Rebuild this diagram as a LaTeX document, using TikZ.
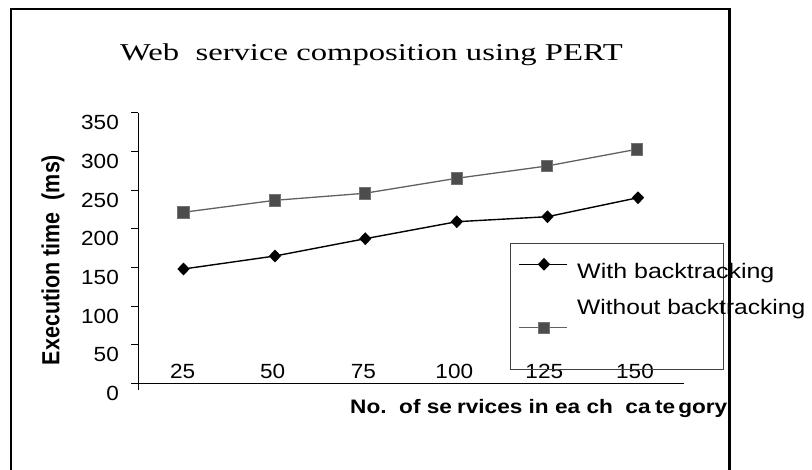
\documentclass[tikz,border=0pt]{standalone}
\usepackage{fontspec}
\setmainfont{Liberation Sans}
\newfontfamily\ttlfont{Liberation Serif}
\usetikzlibrary{shapes.geometric}
% horizontal stretch of a piece of text
\newcommand{\xstretch}[2]{\scalebox{#1}[1]{#2}}
% a gap of #1 word spaces
\newcommand{\wgap}[1]{\hspace{#1\fontdimen2\font}}

\begin{document}
\begin{tikzpicture}[x=1pt,y=-1pt,
  frameline/.style={line width=2.2pt, draw=black},
  axisline/.style={line width=0.9pt, draw=black},
  ticklbl/.style={font=\fontsize{20.5}{22}\selectfont, inner sep=0pt},
  legtxt/.style={font=\fontsize{21}{24}\selectfont, inner sep=0pt, anchor=base west},
  serA/.style={line width=1.4pt, draw=black},
  serB/.style={line width=1.3pt, draw=black!62},
  dmark/.style={diamond, fill=black, inner sep=0pt, minimum width=12.5pt, minimum height=13pt},
  smark/.style={rectangle, fill=black!70, draw=black!55, line width=0.6pt, inner sep=0pt, minimum size=11.5pt},
  legbox/.style={draw=black!75, line width=1pt}
]
\useasboundingbox (0,0) rectangle (812,470);

% title
\node[anchor=base west, inner sep=0pt] (title) at (120,61)
  {\ttlfont\fontsize{24.2}{26}\selectfont\xstretch{1.35}{Web~~service composition using PERT}};

% axes
\draw[axisline] (138,112.7) -- (138,390);
\draw[axisline] (131,383.3) -- (683.5,383.3);
\foreach \v in {0,50,...,350}{
  \pgfmathsetmacro{\yy}{383.3-\v*0.7731}
  \draw[axisline] (131,\yy) -- (138,\yy);
  \node[ticklbl, anchor=east] (ylab\v) at (119,\yy+10) {\xstretch{1.1}{\v}};
}

% category labels
\foreach \c/\xx in {25/182.7,50/272.7,75/363.3,100/454.3,125/544.3,150/635}{
  \node[ticklbl, anchor=base] (xlab\c) at (\xx,378.3) {\xstretch{1.1}{\c}};
}

% axis titles
\node[anchor=base west, inner sep=0pt, font=\fontsize{19.5}{21}\selectfont\bfseries] (xtitle) at (350,413.3)
  {\xstretch{1.16}{No.\wgap{2}of\wgap{1}se\wgap{0.8}rvices\wgap{1}in\wgap{1}ea\wgap{1}ch\wgap{2}ca\wgap{0.7}te\wgap{0.5}gory}};
\node[rotate=90, inner sep=0pt, font=\fontsize{21.5}{23}\selectfont\bfseries] (ytitle) at (53,260)
  {\scalebox{1}[1.15]{Execution time~~(ms)}};

% data points
\coordinate (a1) at (183.5,269);
\coordinate (a2) at (275,256);
\coordinate (a3) at (365.3,238.7);
\coordinate (a4) at (456.8,221.7);
\coordinate (a5) at (547.5,216.7);
\coordinate (a6) at (638,197.7);
\coordinate (b1) at (183.3,212.3);
\coordinate (b2) at (275,200.3);
\coordinate (b3) at (364.7,193.3);
\coordinate (b4) at (456.7,178.3);
\coordinate (b5) at (547,166);
\coordinate (b6) at (636.7,149.3);

\draw[serB] (b1) -- (b2) -- (b3) -- (b4) -- (b5) -- (b6);
\draw[serA] (a1) -- (a2) -- (a3) -- (a4) -- (a5) -- (a6);
\foreach \i in {1,...,6}{
  \node[smark] (sb\i) at (b\i) {};
  \node[dmark] (sa\i) at (a\i) {};
}

% legend
\draw[legbox] (510,244) rectangle (723.7,369.5);
\coordinate (la1) at (519,264.3);
\coordinate (la2) at (567,264.3);
\coordinate (lb1) at (519,327.7);
\coordinate (lb2) at (567,327.7);
\draw[serA] (la1) -- (la2);
\node[dmark] (lam) at (544,264.3) {};
\draw[serB] (lb1) -- (lb2);
\node[smark] (lbm) at (544,327.7) {};
\node[legtxt] (lta) at (577,278.3) {\xstretch{1.19}{With backtracking}};
\node[legtxt] (ltb) at (577,315) {\xstretch{1.17}{Without backtracking}};

% outer frame, open at the bottom edge
\draw[frameline] (11,470) -- (11,9) -- (729.5,9) -- (729.5,470);
\end{tikzpicture}
\end{document}
